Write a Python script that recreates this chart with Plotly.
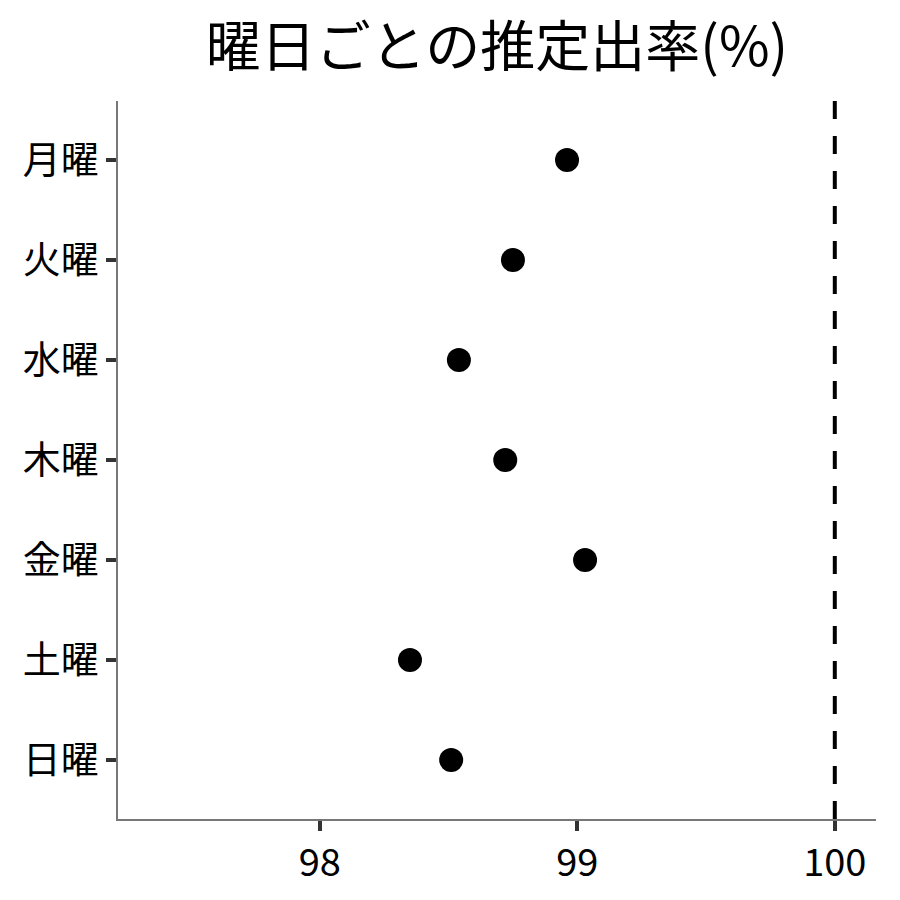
import plotly.graph_objects as go

days = ["月曜", "火曜", "水曜", "木曜", "金曜", "土曜", "日曜"]
rates = [98.96, 98.75, 98.54, 98.72, 99.03, 98.35, 98.51]
x_ticks = [98, 99, 100]
ref_value = 100

font_jp = "Noto Sans CJK JP"

fig = go.Figure()

fig.add_trace(
    go.Scatter(
        x=rates,
        y=days,
        mode="markers",
        marker=dict(color="black", size=24),
        showlegend=False,
    )
)

# reference line at 100%
fig.add_vline(x=ref_value, line=dict(color="black", width=4, dash="18px,17px"))

fig.update_layout(
    width=892,
    height=892,
    paper_bgcolor="white",
    plot_bgcolor="white",
    font=dict(family=font_jp, color="black"),
    title=dict(
        text="曜日ごとの推定出率(%)",
        font=dict(family=font_jp, size=55, color="black"),
        x=(110 + 868) / 2 / 892,
        xanchor="center",
        y=1 - 39 / 892,
        yanchor="middle",
    ),
    margin=dict(l=110, r=24, t=93, b=81),
    xaxis=dict(
        range=[97.216, 100.16],
        tickvals=x_ticks,
        ticktext=[str(v) for v in x_ticks],
        showgrid=False,
        zeroline=False,
        showline=True,
        linecolor="#777777",
        linewidth=1.5,
        ticks="outside",
        ticklen=10,
        tickwidth=3.5,
        tickcolor="#333333",
        tickfont=dict(size=38, color="black"),
    ),
    yaxis=dict(
        categoryorder="array",
        categoryarray=days[::-1],
        range=[-0.59, 6.59],
        showgrid=False,
        zeroline=False,
        showline=True,
        linecolor="#777777",
        linewidth=1.5,
        ticks="outside",
        ticklen=10,
        tickwidth=3.5,
        tickcolor="#333333",
        tickfont=dict(size=38, color="black"),
    ),
)

fig.write_html("out.html")
